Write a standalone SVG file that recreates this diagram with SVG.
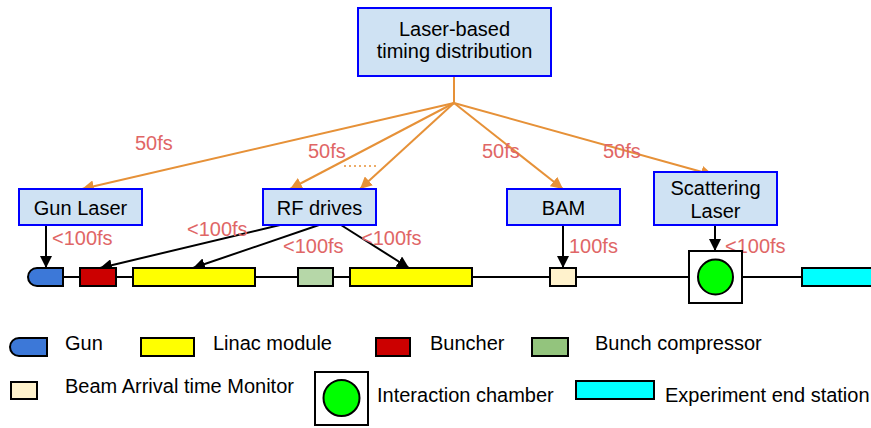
<svg xmlns="http://www.w3.org/2000/svg" width="871" height="428" viewBox="0 0 871 428">
<defs>
<style>
text{font-family:"Liberation Sans",Arial,sans-serif;font-size:20px;fill:#000}
.box{fill:#cfe2f3;stroke:#0000ff;stroke-width:2}
.lbl{fill:#e06666}
.or{stroke:#e69138;stroke-width:2;fill:none}
.bk{stroke:#000;stroke-width:2;fill:none}
.el{stroke:#000;stroke-width:2}
</style>
<marker id="ao" viewBox="0 0 10 10" refX="10" refY="5" markerWidth="6" markerHeight="6" orient="auto" markerUnits="strokeWidth"><path d="M0,0 L10,5 L0,10 z" fill="#e69138"/></marker>
<marker id="ab" viewBox="0 0 10 10" refX="10" refY="5" markerWidth="6" markerHeight="6" orient="auto" markerUnits="strokeWidth"><path d="M0,0 L10,5 L0,10 z" fill="#000"/></marker>
</defs>
<rect width="871" height="428" fill="#fff"/>
<g id="connectors">
<line class="bk" x1="63" y1="277" x2="802" y2="277"/>
<line class="or" x1="454" y1="76" x2="454" y2="103"/>
<line class="or" x1="454" y1="103" x2="82" y2="189" marker-end="url(#ao)"/>
<line class="or" x1="454" y1="103" x2="290" y2="189" marker-end="url(#ao)"/>
<line class="or" x1="454" y1="103" x2="360" y2="189" marker-end="url(#ao)"/>
<line class="or" x1="454" y1="103" x2="563" y2="189" marker-end="url(#ao)"/>
<line class="or" x1="454" y1="103" x2="713" y2="175" marker-end="url(#ao)"/>
<line x1="344" y1="166" x2="377" y2="166" stroke="#e69138" stroke-width="1.5" stroke-dasharray="2,3"/>
<line class="bk" x1="46" y1="225" x2="46" y2="268" marker-end="url(#ab)"/>
<line class="bk" x1="280" y1="225" x2="100" y2="268" marker-end="url(#ab)"/>
<line class="bk" x1="319" y1="225" x2="193" y2="268" marker-end="url(#ab)"/>
<line class="bk" x1="341" y1="225" x2="409" y2="268" marker-end="url(#ab)"/>
<line class="bk" x1="563" y1="225" x2="563" y2="268" marker-end="url(#ab)"/>
<line class="bk" x1="715" y1="225" x2="715" y2="251" marker-end="url(#ab)"/>
<text class="lbl" x="135" y="150">50fs</text>
<text class="lbl" x="308" y="158">50fs</text>
<text class="lbl" x="482" y="158">50fs</text>
<text class="lbl" x="603" y="158">50fs</text>
<text class="lbl" x="52" y="245">&lt;100fs</text>
<text class="lbl" x="187" y="236">&lt;100fs</text>
<text class="lbl" x="283" y="253">&lt;100fs</text>
<text class="lbl" x="361" y="245">&lt;100fs</text>
<text class="lbl" x="569" y="253">100fs</text>
<text class="lbl" x="725" y="253">&lt;100fs</text>
</g>
<g id="timing">
<rect class="box" x="358" y="8" width="193" height="68"/>
<text x="454.5" y="36" text-anchor="middle">Laser-based</text>
<text x="454.5" y="58" text-anchor="middle">timing distribution</text>
</g>
<g id="gunlaser">
<rect class="box" x="19" y="189" width="123" height="36"/>
<text x="80.5" y="215" text-anchor="middle">Gun Laser</text>
</g>
<g id="rfdrives">
<rect class="box" x="263" y="189" width="113" height="36"/>
<text x="319.5" y="215" text-anchor="middle">RF drives</text>
</g>
<g id="bam">
<rect class="box" x="507" y="189" width="113" height="36"/>
<text x="563.5" y="215" text-anchor="middle">BAM</text>
</g>
<g id="scatlaser">
<rect class="box" x="654" y="172" width="123" height="53"/>
<text x="715.5" y="195" text-anchor="middle">Scattering</text>
<text x="715.5" y="218" text-anchor="middle">Laser</text>
</g>
<g id="gun"><path class="el" d="M63,268 L37,268 A9,9 0 0 0 37,286 L63,286 z" fill="#3c78d8"/></g>
<g id="buncher"><rect class="el" x="80" y="268" width="36" height="18" fill="#cc0000"/></g>
<g id="linac1"><rect class="el" x="133" y="268" width="122" height="18" fill="#ffff00"/></g>
<g id="compressor"><rect class="el" x="298" y="268" width="35" height="18" fill="#b6d7a8"/></g>
<g id="linac2"><rect class="el" x="350" y="268" width="122" height="18" fill="#ffff00"/></g>
<g id="bammon"><rect class="el" x="550" y="268" width="26" height="18" fill="#fff2cc"/></g>
<g id="chamber"><rect class="el" x="689" y="251" width="53" height="52" fill="#fff"/><circle class="el" cx="715.5" cy="277" r="17.5" fill="#00ff00"/></g>
<g id="endstation"><rect class="el" x="802" y="268" width="80" height="18" fill="#00ffff"/></g>
<g id="legend">
<path class="el" d="M47,338 L19,338 A9,9 0 0 0 19,356 L47,356 z" fill="#3c78d8"/>
<text x="65" y="350">Gun</text>
<rect class="el" x="141" y="338" width="53" height="18" fill="#ffff00"/>
<text x="213" y="350">Linac module</text>
<rect class="el" x="376" y="338" width="34" height="18" fill="#cc0000"/>
<text x="430" y="350">Buncher</text>
<rect class="el" x="532" y="338" width="36" height="18" fill="#93c47d"/>
<text x="595" y="350">Bunch compressor</text>
<rect class="el" x="11" y="382" width="26" height="17" fill="#fff2cc"/>
<text x="65" y="393">Beam Arrival time Monitor</text>
<rect class="el" x="315" y="372" width="53" height="53" fill="#fff"/>
<circle class="el" cx="341.5" cy="398" r="18" fill="#00ff00"/>
<text x="377" y="402">Interaction chamber</text>
<rect class="el" x="576" y="381" width="78" height="18" fill="#00ffff"/>
<text x="665" y="402">Experiment end station</text>
</g>
</svg>
